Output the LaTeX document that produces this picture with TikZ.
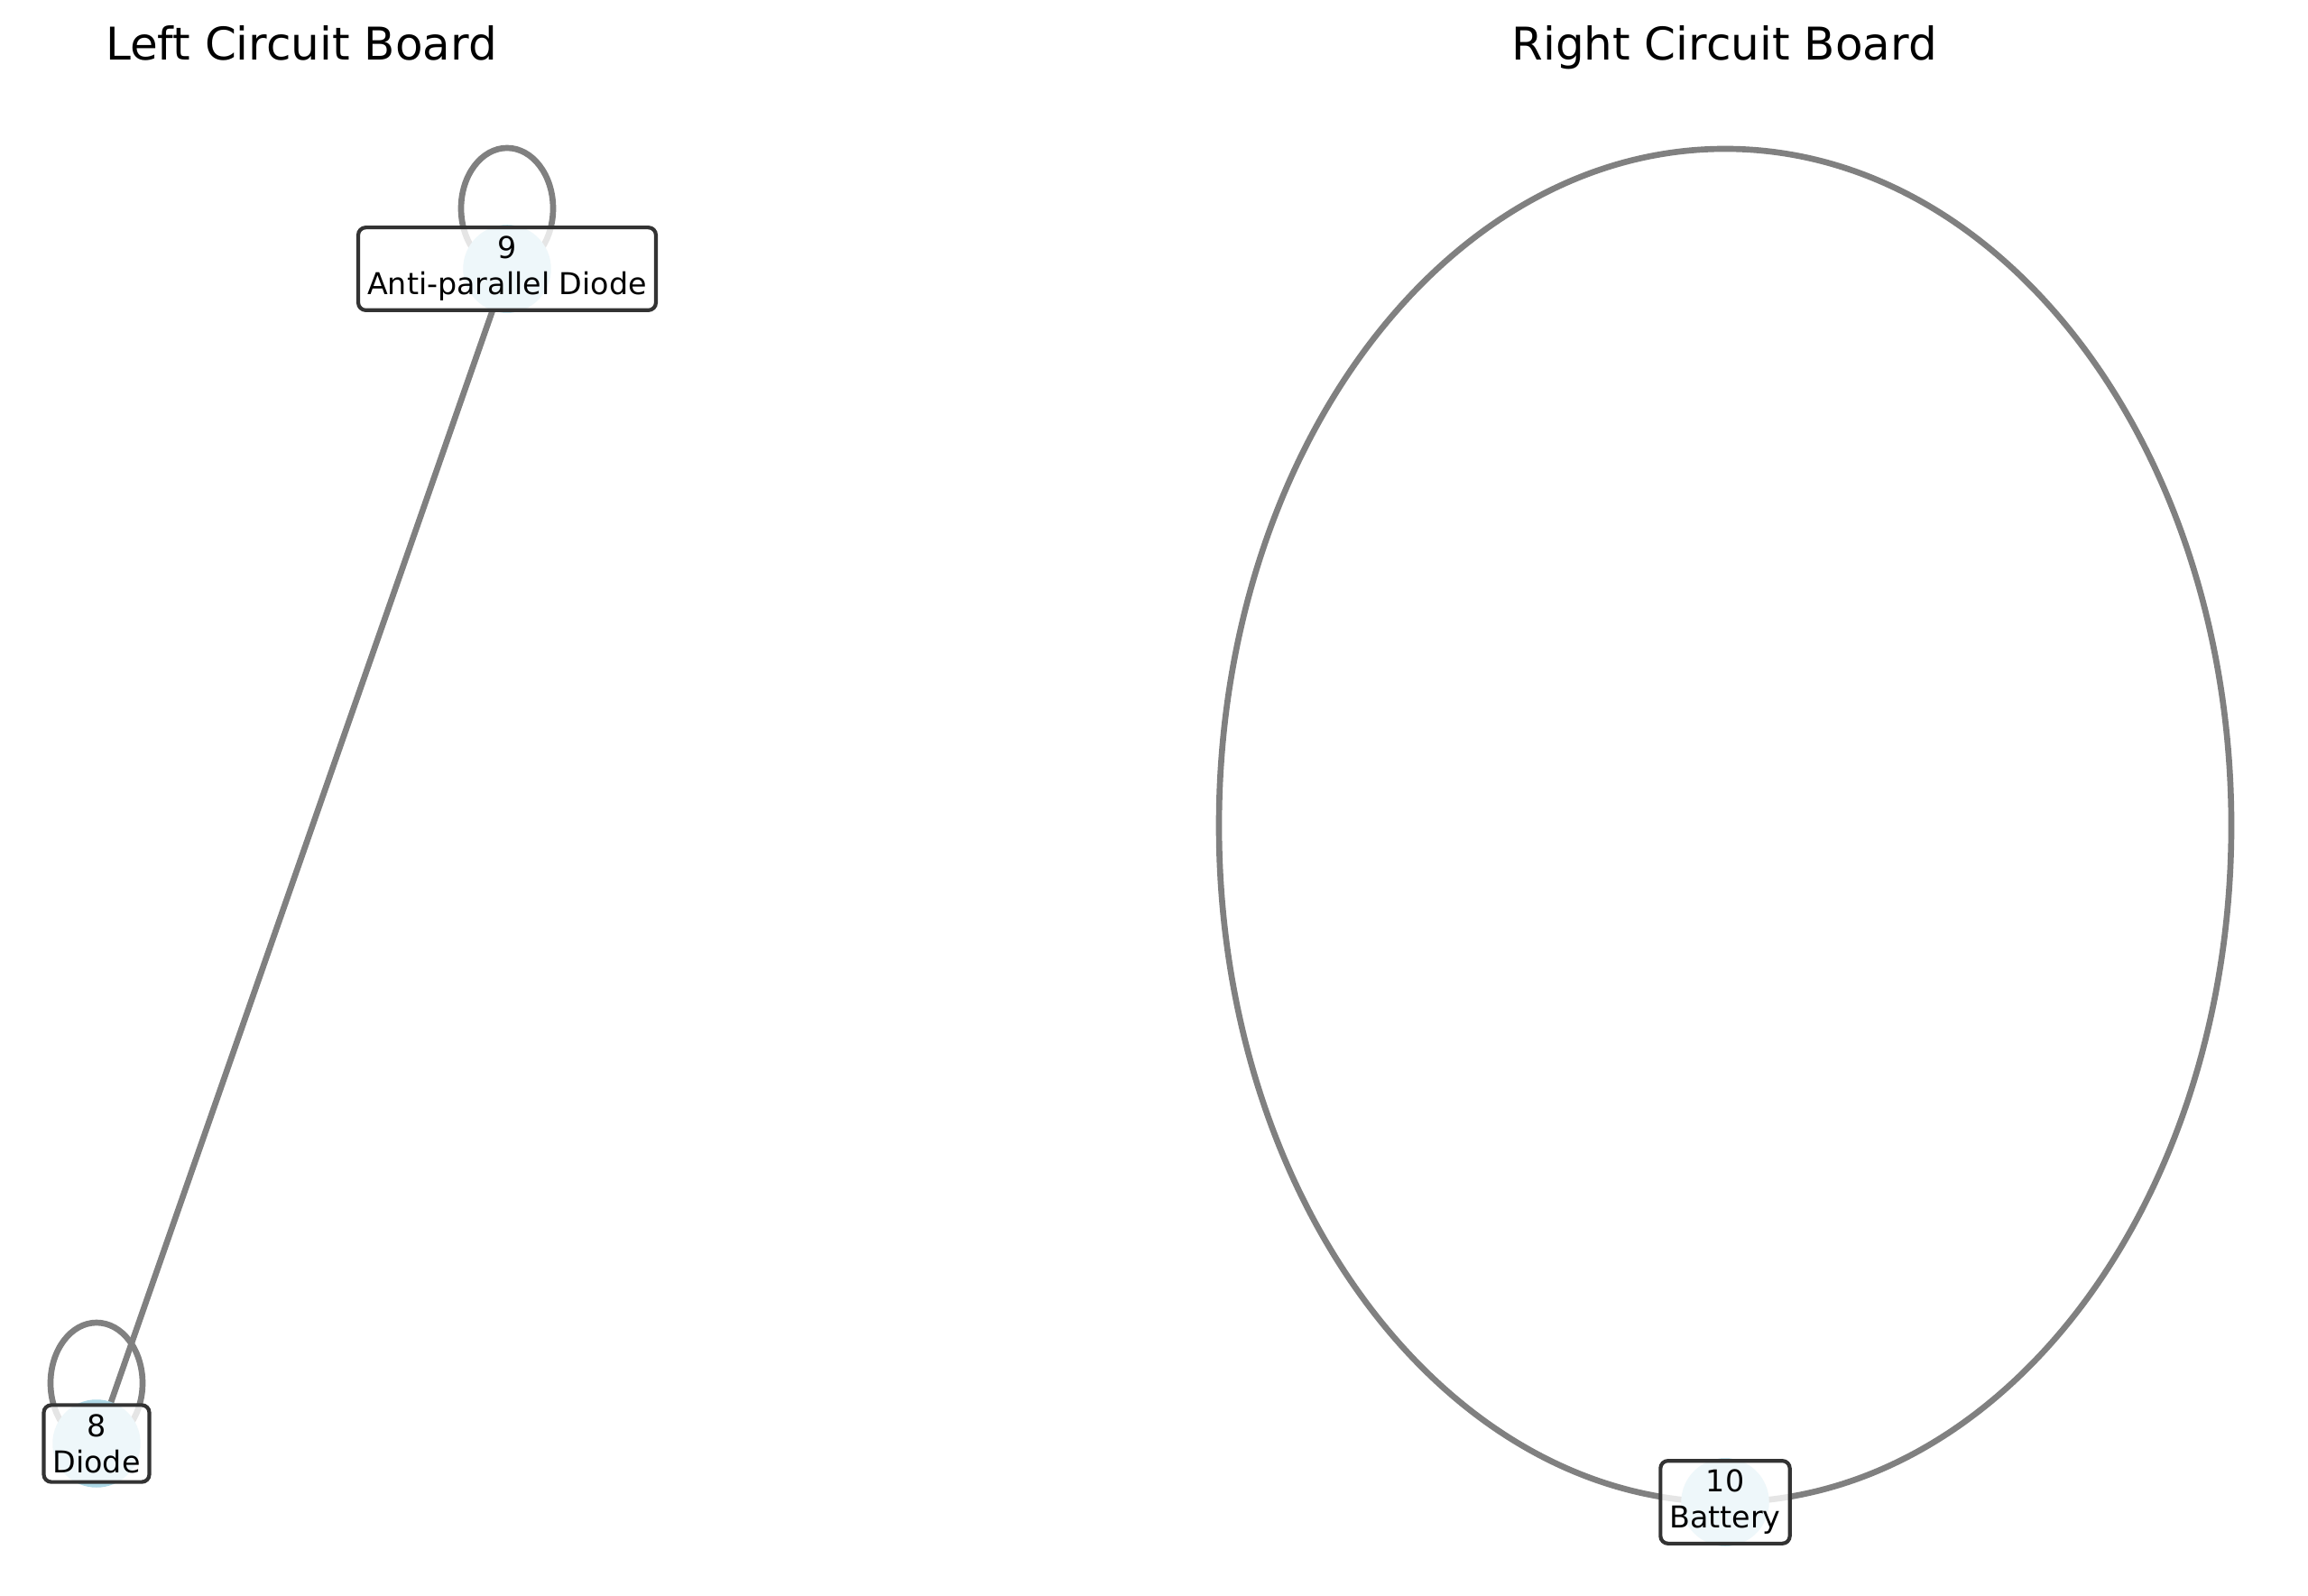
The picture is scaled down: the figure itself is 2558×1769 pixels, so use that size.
\documentclass[tikz,border=0pt]{standalone}
\usepackage{fontspec}
\setmainfont{DejaVu Sans}
\usetikzlibrary{backgrounds}
\definecolor{wireColor}{rgb}{0.5,0.5,0.5}
\definecolor{partColor}{HTML}{ADD8E6}
\definecolor{frameColor}{rgb}{0.2,0.2,0.2}

\begin{document}
\begin{tikzpicture}[x=0.24pt,y=0.24pt]

            \tikzstyle{partNode} = [circle, fill=partColor, minimum size=23.4pt, inner sep=0pt];
            \tikzstyle{labelNode} = [draw=frameColor, line width=1pt, rounded corners=2pt, fill=white, fill opacity=0.8, draw opacity=1, text opacity=1, align=center, inner sep=2.4pt, font=\fontsize{8}{9.6}\selectfont];
            \tikzstyle{titleNode} = [anchor=base, font=\fontsize{12}{14}\selectfont];

            \tikzstyle{wire} = [line width=1.6pt, wireColor];

            \useasboundingbox (0,0) rectangle (2558,-1769);

            \node[titleNode] (leftTitle) at (334,-67) {Left Circuit Board};
            \node[titleNode] (rightTitle) at (1911,-67) {Right Circuit Board};

            \node[partNode] (n9) at (562,-298) {};
            \node[partNode] (n8) at (107,-1600) {};
            \node[partNode] (n10) at (1912,-1665) {};

            \node[labelNode] (l9) at (n9) {9\\Anti-parallel Diode};
            \node[labelNode] (l8) at (n8) {8\\Diode};
            \node[labelNode] (l10) at (n10) {10\\Battery};

            \begin{pgfonlayer}{background}
              \draw[wire] (n9.center) -- (n8.center);
              \draw[wire] (n9.center) arc[start angle=-90, end angle=270, x radius=51, y radius=67];
              \draw[wire] (n8.center) arc[start angle=-90, end angle=270, x radius=51, y radius=67];
              \draw[wire] (n10.center) arc[start angle=-90, end angle=270, x radius=561, y radius=750];
            \end{pgfonlayer}
          \end{tikzpicture}
\end{document}
